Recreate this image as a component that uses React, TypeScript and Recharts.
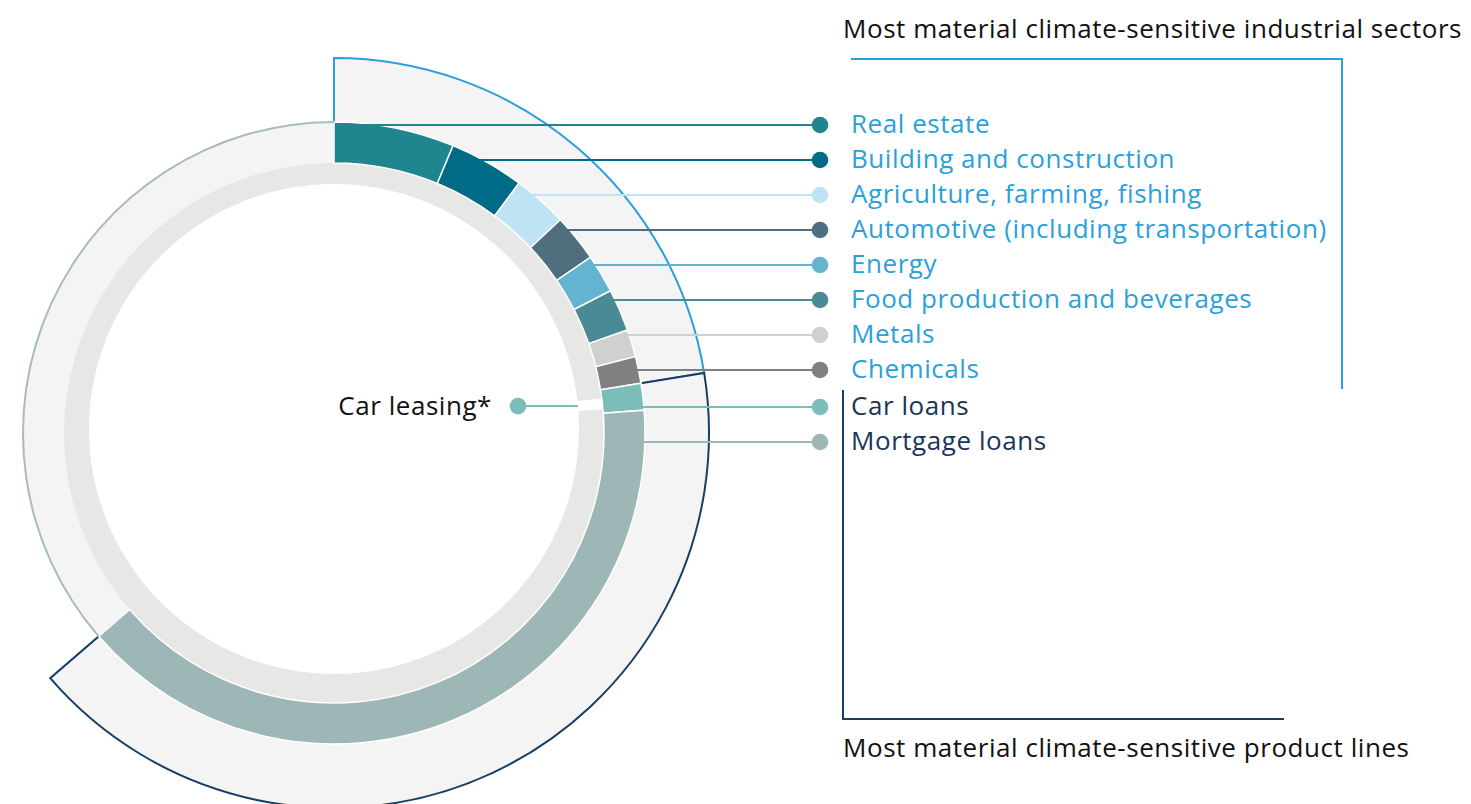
import { PieChart, Pie, Cell, Customized } from "recharts";

// shares of the loan book, in percent
const sectorNames = [
  "Real estate",
  "Building and construction",
  "Agriculture, farming, fishing",
  "Automotive (including transportation)",
  "Energy",
  "Food production and beverages",
  "Metals",
  "Chemicals",
];
const sectorShares = [6.25, 3.89, 2.83, 2.47, 2.0, 2.19, 1.42, 1.39];
const sectorColors = [
  "#1f8690",
  "#006b87",
  "#bde3f5",
  "#4f6f7f",
  "#64b3d1",
  "#4a8a94",
  "#d0d0d0",
  "#808080",
];

const productNames = ["Car loans", "Mortgage loans"];
const productShares = [1.39, 39.83];
const productColors = ["#7bbdb9", "#9db7b6"];

const carLeasingLabel = "Car leasing*";
const carLeasingShare = 0.64;

const topTitle = "Most material climate-sensitive industrial sectors";
const bottomTitle = "Most material climate-sensitive product lines";

const sum = (a: number[]) => a.reduce((s, v) => s + v, 0);
const sectorTotal = sum(sectorShares);
const productTotal = sum(productShares);
const otherShare = 100 - sectorTotal - productTotal;

const ringData = [
  ...sectorNames.map((name, i) => ({ name, value: sectorShares[i], color: sectorColors[i], product: false, other: false })),
  ...productNames.map((name, i) => ({ name, value: productShares[i], color: productColors[i], product: true, other: false })),
  { name: "Other", value: otherShare, color: "#f4f4f4", product: false, other: true },
];

const bandData = [
  { name: "sectors", value: sectorTotal },
  { name: "products", value: productTotal },
  { name: "other", value: otherShare },
];

const leasingData = [
  { name: "before", value: sectorTotal + productShares[0] - carLeasingShare },
  { name: carLeasingLabel, value: carLeasingShare },
  { name: "after", value: 100 - sectorTotal - productShares[0] },
];

const CX = 334;
const CY = 433;
const DOT_X = 820;
const TEXT_X = 851;
const FONT = "'Open Sans', sans-serif";
const FONT_SIZE = 26;
const SPACING = 0.55;
const BLUE = "#2a9fd8";
const NAVY = "#173f66";
const BLUE_TEXT = "#2ba0da";
const NAVY_TEXT = "#1b3556";
const RAD = Math.PI / 180;

const rowY = (i: number) => 125 + i * 35 + (i >= sectorNames.length ? 2 : 0);

function RingLabel(props: any) {
  const { cx, cy, outerRadius, index } = props;
  const item = ringData[index];
  if (!item || item.other) return null;
  const y = rowY(index);
  const r0 = outerRadius - 2;
  const dy = y - cy;
  const x0 = cx + Math.sqrt(Math.max(r0 * r0 - dy * dy, 0));
  return (
    <g>
      <line x1={x0} y1={y} x2={DOT_X} y2={y} stroke={item.color} strokeWidth={2} />
      <circle cx={DOT_X} cy={y} r={8.3} fill={item.color} />
      <text
        x={TEXT_X}
        y={y + 8}
        fill={item.product ? NAVY_TEXT : BLUE_TEXT}
        fontSize={FONT_SIZE}
        fontFamily={FONT}
        letterSpacing={SPACING}
      >
        {item.name}
      </text>
    </g>
  );
}

function LeasingLabel(props: any) {
  const { cx, cy, innerRadius, midAngle, index } = props;
  if (index !== 1) return null;
  const y = cy - innerRadius * Math.sin(midAngle * RAD);
  const dy = y - cy;
  const x1 = cx + Math.sqrt(Math.max(innerRadius * innerRadius - dy * dy, 0));
  const dotX = 518;
  return (
    <g>
      <line x1={dotX} y1={y} x2={x1} y2={y} stroke={productColors[0]} strokeWidth={2} />
      <circle cx={dotX} cy={y} r={8.3} fill={productColors[0]} />
      <text
        x={492}
        y={y + 9}
        textAnchor="end"
        fill="#111"
        fontSize={FONT_SIZE}
        fontFamily={FONT}
        letterSpacing={SPACING}
      >
        {carLeasingLabel}
      </text>
    </g>
  );
}

function Frames() {
  return (
    <g>
      <text x={843} y={38} fill="#111" fontSize={FONT_SIZE} fontFamily={FONT} letterSpacing={SPACING}>
        {topTitle}
      </text>
      <polyline points="851,59 1342,59 1342,389" fill="none" stroke={BLUE} strokeWidth={2} />
      <polyline points="843,390 843,719 1284,719" fill="none" stroke={NAVY} strokeWidth={2} />
      <text x={843} y={757} fill="#111" fontSize={FONT_SIZE} fontFamily={FONT} letterSpacing={SPACING}>
        {bottomTitle}
      </text>
    </g>
  );
}

export default function App() {
  return (
    <div style={{ position: "absolute", left: 0, top: 0, width: 1471, height: 804, overflow: "hidden" }}>
      <PieChart width={1471} height={804} margin={{ top: 0, right: 0, bottom: 0, left: 0 }}>
        {/* outer bands: sectors (blue) and product lines (navy) */}
        <Pie
          data={bandData}
          dataKey="value"
          cx={CX}
          cy={CY}
          innerRadius={300}
          outerRadius={375}
          startAngle={90}
          endAngle={-270}
          isAnimationActive={false}
        >
          <Cell fill="#f4f4f4" stroke={BLUE} strokeWidth={2} />
          <Cell fill="#f4f4f4" stroke={NAVY} strokeWidth={2} />
          <Cell fill="none" stroke="none" />
        </Pie>
        {/* inner light grey ring with car leasing slot */}
        <Pie
          data={leasingData}
          dataKey="value"
          cx={CX}
          cy={429}
          innerRadius={245}
          outerRadius={276}
          startAngle={90}
          endAngle={-270}
          isAnimationActive={false}
          label={LeasingLabel}
          labelLine={false}
        >
          <Cell fill="#e7e7e5" stroke="none" />
          <Cell fill="#ffffff" stroke="none" />
          <Cell fill="#e7e7e5" stroke="none" />
        </Pie>
        {/* main ring */}
        <Pie
          data={ringData}
          dataKey="value"
          cx={CX}
          cy={CY}
          innerRadius={270}
          outerRadius={311}
          startAngle={90}
          endAngle={-270}
          isAnimationActive={false}
          label={RingLabel}
          labelLine={false}
        >
          {ringData.map((d) => (
            <Cell
              key={d.name}
              fill={d.color}
              stroke={d.other ? "none" : "#ffffff"}
              strokeWidth={d.other ? 0 : 1.5}
            />
          ))}
        </Pie>
        {/* thin outline on the remaining part of the ring */}
        <Pie
          data={bandData}
          dataKey="value"
          cx={CX}
          cy={CY}
          innerRadius={310}
          outerRadius={312}
          startAngle={90}
          endAngle={-270}
          isAnimationActive={false}
        >
          <Cell fill="none" stroke="none" />
          <Cell fill="none" stroke="none" />
          <Cell fill="#a9bcbc" stroke="none" />
        </Pie>
        <Customized component={Frames} />
      </PieChart>
    </div>
  );
}
